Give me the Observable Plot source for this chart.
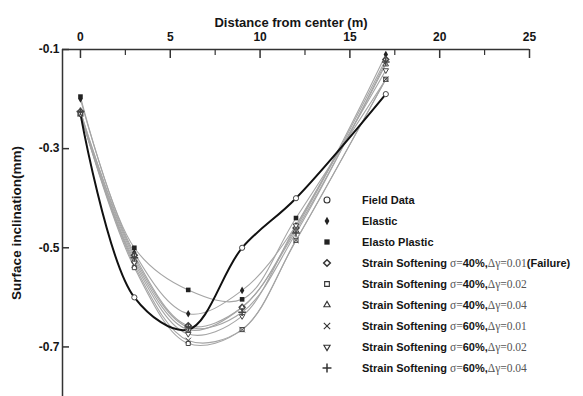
<!DOCTYPE html>
<html><head><meta charset="utf-8">
<script src="https://cdn.jsdelivr.net/npm/d3@7"></script>
<script src="https://cdn.jsdelivr.net/npm/@observablehq/plot@0.6"></script>
<style>
body{margin:0;background:#fff}
#wrap{position:relative;width:583px;height:396px;font-family:"Liberation Sans",Arial,sans-serif}
#legend{position:absolute;left:320px;top:190px}
.row{height:20.9px;display:flex;align-items:center;white-space:nowrap}
.sym{width:14px;height:14px;margin-right:28px;flex:none}
.lab{font-size:11px;font-weight:bold;color:#151515}
.ser{font-family:"Liberation Serif","Times New Roman",serif;font-weight:normal;font-size:11.5px;color:#555}
</style>
</head><body>
<div id="wrap"></div>
<script>
// ---- data ----
const xValues = [0, 3, 6, 9, 12, 17];
const seriesNames = [
  "Field Data",
  "Elastic",
  "Elasto Plastic",
  "Strain Softening σ=40%,Δγ=0.01(Failure)",
  "Strain Softening σ=40%,Δγ=0.02",
  "Strain Softening σ=40%,Δγ=0.04",
  "Strain Softening σ=60%,Δγ=0.01",
  "Strain Softening σ=60%,Δγ=0.02",
  "Strain Softening σ=60%,Δγ=0.04"
];
const fieldData     = [-0.23, -0.60, -0.665, -0.50, -0.40, -0.19];
const elastic       = [-0.20, -0.51, -0.633, -0.586, -0.455, -0.11];
const elastoPlastic = [-0.195, -0.50, -0.585, -0.604, -0.44, -0.16];
const ss40_001      = [-0.225, -0.515, -0.657, -0.62, -0.46, -0.12];
const ss40_002      = [-0.23, -0.54, -0.693, -0.665, -0.485, -0.16];
const ss40_004      = [-0.23, -0.525, -0.665, -0.62, -0.465, -0.13];
const ss60_001      = [-0.23, -0.535, -0.687, -0.665, -0.485, -0.16];
const ss60_002      = [-0.23, -0.53, -0.674, -0.638, -0.455, -0.142];
const ss60_004      = [-0.225, -0.52, -0.66, -0.63, -0.47, -0.125];
const seriesValues = [fieldData, elastic, elastoPlastic, ss40_001, ss40_002, ss40_004, ss60_001, ss60_002, ss60_004];
const xTicks = [0, 5, 10, 15, 20, 25];
const xMinorTicks = [2.5, 7.5, 12.5, 17.5, 22.5];
const yTicks = [-0.1, -0.3, -0.5, -0.7];
const xDomain = [-1, 25];
const yDomain = [-0.8, -0.1];
const xTitle = "Distance from center (m)";
const yTitle = "Surface inclination(mm)";

// ---- styles ----
const symbolTriangleDown = {
  draw(ctx, size) {
    const s = Math.sqrt(size) * 0.6824, t = s / 2, u = s * Math.sqrt(3) / 2;
    ctx.moveTo(0, s); ctx.lineTo(u, -t); ctx.lineTo(-u, -t); ctx.closePath();
  }
};
const styles = [
  {symbol: d3.symbolCircle, filled: false},
  {symbol: d3.symbolDiamond, filled: true, r: 2.3},
  {symbol: d3.symbolSquare, filled: true},
  {symbol: d3.symbolDiamond2, filled: false, sw: 1.5},
  {symbol: d3.symbolSquare2, filled: false},
  {symbol: d3.symbolTriangle2, filled: false},
  {symbol: d3.symbolTimes, filled: false},
  {symbol: symbolTriangleDown, filled: false},
  {symbol: d3.symbolPlus, filled: false, sw: 1.5}
];

const W = 583, H = 396, mL = 62, mR = 54, mT = 49, mB = 0;
const innerW = W - mL - mR, innerH = H - mT - mB;
const axisColor = "#333";

const marks = [];
seriesValues.forEach((vals, k) => {
  if (k === 0) return;
  marks.push(Plot.line(xValues.map((x, i) => ({x, y: vals[i]})), {
    x: "x", y: "y", curve: "catmull-rom", stroke: "#a5a5a5", strokeWidth: 1.1
  }));
});
marks.push(Plot.line(xValues.map((x, i) => ({x, y: fieldData[i]})), {
  x: "x", y: "y", curve: "catmull-rom", stroke: "#111", strokeWidth: 2
}));
seriesValues.forEach((vals, k) => {
  const st = styles[k];
  marks.push(Plot.dot(xValues.map((x, i) => ({x, y: vals[i]})), {
    x: "x", y: "y", symbol: st.symbol, r: st.r || 2.6,
    fill: st.filled ? "#222" : "white",
    stroke: st.filled ? "none" : "#444",
    strokeWidth: st.sw || 1
  }));
});
marks.push(Plot.ruleY([yDomain[1]], {stroke: axisColor, strokeWidth: 1.5}));
marks.push(Plot.ruleX([xDomain[0]], {stroke: axisColor, strokeWidth: 1.5}));
marks.push(Plot.tickX(xTicks, {x: d => d, insetBottom: innerH - 9, stroke: axisColor, strokeWidth: 1.5}));
marks.push(Plot.tickX(xMinorTicks, {x: d => d, insetBottom: innerH - 6, stroke: axisColor, strokeWidth: 1.2}));
marks.push(Plot.tickY(yTicks, {y: d => d, insetRight: innerW - 7, stroke: axisColor, strokeWidth: 1.5}));
marks.push(Plot.axisX({anchor: "top", ticks: xTicks, tickSize: 0, tickPadding: 9, label: null,
  fontSize: 12, fontWeight: "bold", fill: "#151515", tickFormat: d => String(d)}));
marks.push(Plot.axisY({anchor: "left", ticks: yTicks, tickSize: 0, tickPadding: 3, label: null,
  fontSize: 12, fontWeight: "bold", fill: "#151515", tickFormat: d => d.toFixed(1)}));
marks.push(Plot.text([xTitle], {frameAnchor: "top", textAnchor: "middle", dy: -32, dx: -5, fontSize: 13, fontWeight: "bold", fill: "#151515"}));
marks.push(Plot.text([yTitle], {frameAnchor: "left", textAnchor: "middle", dx: -46, rotate: -90, fontSize: 13.5, fontWeight: "bold", fill: "#151515"}));

const chart = Plot.plot({
  width: W, height: H,
  marginLeft: mL, marginRight: mR, marginTop: mT, marginBottom: mB,
  x: {domain: xDomain, axis: null},
  y: {domain: yDomain, axis: null},
  style: {fontFamily: '"Liberation Sans", Arial, sans-serif', background: "white", overflow: "visible"},
  marks
});
const wrap = document.getElementById("wrap");
wrap.appendChild(chart);

// ---- legend ----
const legend = document.createElement("div");
legend.id = "legend";
seriesNames.forEach((name, k) => {
  const st = styles[k];
  const row = document.createElement("div");
  row.className = "row";
  const svg = d3.create("svg").attr("class", "sym").attr("width", 14).attr("height", 14);
  svg.append("path")
    .attr("transform", "translate(7,7)")
    .attr("d", d3.symbol(st.symbol, k === 1 ? 20 : 28)())
    .attr("fill", st.filled ? "#222" : "none")
    .attr("stroke", st.filled ? "none" : "#333")
    .attr("stroke-width", st.sw || 1.1);
  row.appendChild(svg.node());
  const lab = document.createElement("span");
  lab.className = "lab";
  const m = name.match(/^(Strain Softening )σ=(\d+%,)Δγ=([\d.]+)(.*)$/);
  if (m) {
    lab.innerHTML = `${m[1]}<span class="ser">σ=</span>${m[2]}<span class="ser">Δγ=${m[3]}</span>${m[4]}`;
  } else {
    lab.textContent = name;
  }
  row.appendChild(lab);
  legend.appendChild(row);
});
wrap.appendChild(legend);
</script>
</body></html>
